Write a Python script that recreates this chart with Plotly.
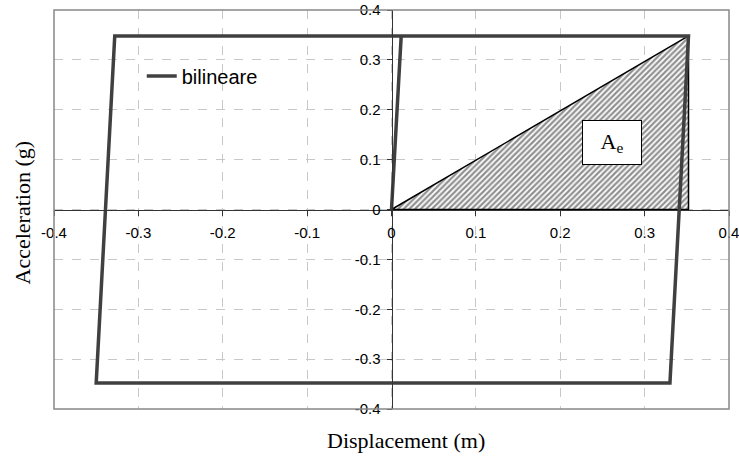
import plotly.graph_objects as go

# Bilinear hysteresis loop (displacement in m, acceleration in g)
loop_disp = [0.0, 0.0115, 0.352, 0.330, -0.350, -0.328, 0.352]
loop_acc = [0.0, 0.348, 0.348, -0.348, -0.348, 0.348, 0.348]

# Elastic energy triangle A_e
tri_disp = [0.0, 0.352, 0.352, 0.0]
tri_acc = [0.0, 0.348, 0.0, 0.0]

label_pos = (0.2614, 0.1335)
ticks = [-0.4, -0.3, -0.2, -0.1, 0, 0.1, 0.2, 0.3, 0.4]
tick_text = ["-0.4", "-0.3", "-0.2", "-0.1", "0", "0.1", "0.2", "0.3", "0.4"]

fig = go.Figure()

fig.add_trace(go.Scatter(
    x=tri_disp, y=tri_acc, mode="lines", fill="toself",
    fillcolor="white",
    fillpattern=dict(shape="/", fgcolor="#222222", bgcolor="white", size=4, solidity=0.55),
    line=dict(color="black", width=1.5),
    showlegend=False, hoverinfo="skip",
))

fig.add_trace(go.Scatter(
    x=loop_disp, y=loop_acc, mode="lines", name="bilineare",
    line=dict(color="#404040", width=3.5),
))

fig.add_annotation(
    x=label_pos[0], y=label_pos[1], xref="x", yref="y",
    text="A<sub>e</sub>", showarrow=False,
    font=dict(family="Liberation Serif, Times New Roman, serif", size=22, color="black"),
    bgcolor="white", bordercolor="black", borderwidth=1, borderpad=0,
    width=58, height=43,
)

fig.add_annotation(
    x=0.5215, y=-0.08, xref="paper", yref="paper",
    text="Displacement (m)", showarrow=False, yanchor="middle",
    font=dict(family="Liberation Serif, Times New Roman, serif", size=22, color="black"),
)
fig.add_annotation(
    x=-0.0474, y=0.4925, xref="paper", yref="paper",
    text="Acceleration (g)", showarrow=False, textangle=-90,
    xanchor="center", yanchor="middle",
    font=dict(family="Liberation Serif, Times New Roman, serif", size=22, color="black"),
)

# plot border
fig.add_shape(type="rect", xref="x domain", yref="y domain", x0=0, y0=0, x1=1, y1=1,
              line=dict(color="#888888", width=1.5), layer="above")

axis_common = dict(
    range=[-0.4, 0.4], tickvals=ticks, ticktext=tick_text,
    showgrid=True, gridcolor="#c8c8c8", griddash="dash", gridwidth=1,
    zeroline=False, showline=True, linecolor="#333333", linewidth=1,
    ticks="outside", ticklen=5, tickcolor="#333333",
    tickfont=dict(family="Arial, Liberation Sans, sans-serif", size=15, color="black"),
    anchor="free", position=0.5, fixedrange=True, automargin=False,
    ticklabeloverflow="allow",
)

fig.update_layout(
    width=739, height=459,
    margin=dict(l=54, r=10, t=10, b=50, autoexpand=False),
    paper_bgcolor="white", plot_bgcolor="white",
    xaxis=dict(**axis_common, ticklabelstandoff=4),
    yaxis=dict(**axis_common, ticklabelstandoff=3),
    showlegend=True,
    legend=dict(x=0.13, y=0.8346, xanchor="left", yanchor="middle",
                bgcolor="rgba(0,0,0,0)",
                font=dict(family="Arial, Liberation Sans, sans-serif", size=20, color="black")),
)

fig.write_html("out.html", config={"displayModeBar": False},
               post_script="document.body.style.margin='0';")
